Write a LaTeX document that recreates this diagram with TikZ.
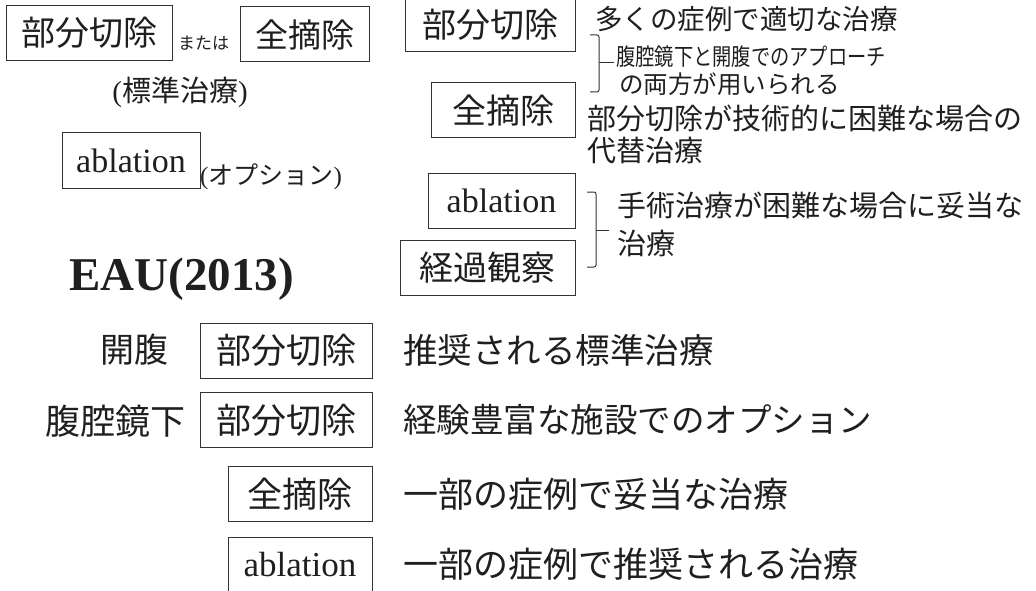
\documentclass[tikz,border=0pt]{standalone}
\usepackage{graphicx}
\usepackage{fontspec}
\newfontfamily\jp{Noto Sans CJK JP}
\newfontfamily\tms{Liberation Serif}
\newcommand{\fs}[1]{\fontsize{#1}{#1}\selectfont}
\begin{document}
\begin{tikzpicture}[x=1pt,y=-1pt,
  box/.style={draw=black!80, line width=1pt, inner sep=0pt, minimum height=55, anchor=center, text=black!88},
  lbl/.style={inner sep=0pt, anchor=west, text=black!88, align=left},
  brk/.style={draw=black!80, line width=1pt, rounded corners=2pt}]
\useasboundingbox (0,0) rectangle (1036,591);
% ---------- top left ----------
\node[box, minimum width=166] (tl1) at (89,33) {\jp\fs{34}部分切除};
\node[lbl] (mataha) at (178,43) {\jp\fs{17}または};
\node[box, minimum width=129] (tl2) at (304.5,34.5) {\jp\fs{33}全摘除};
\node[lbl, anchor=center] (std) at (180,92) {\tms\fs{29}(\jp 標準治療\tms)};
\node[box, minimum width=138] (tl3) at (131,160.5) {\tms\fs{34}ablation};
\node[lbl] (opt) at (200,177) {\tms\fs{25}(\jp オプション\tms)};
\node[lbl, anchor=base west] (eau) at (69,290) {\tms\bfseries\fs{47}EAU(2013)};
% ---------- top right ----------
\node[box, minimum width=170] (r1) at (490,24.5) {\jp\fs{34}部分切除};
\node[lbl] (r1t) at (595,19) {\jp\fs{27.5}多くの症例で適切な治療};
\coordinate (b1t) at (590,35);
\coordinate (b1b) at (590,92);
\coordinate (b1m) at (614,63);
\draw[brk] (b1t) -- ++(9,0) |- (b1b);
\draw[brk] (599,63) -- (b1m);
\node[lbl] (r1a) at (616,57) {\jp\fs{23.5}\scalebox{0.82}[1]{腹腔鏡下と開腹でのアプローチ}};
\node[lbl] (r1b) at (619,84) {\jp\fs{24.5}の両方が用いられる};
\node[box, minimum width=144] (r2) at (503,110.5) {\jp\fs{34}全摘除};
\node[lbl] (r2t) at (587,118) {\jp\fs{29}部分切除が技術的に困難な場合の};
\node[lbl] (r2u) at (587,150) {\jp\fs{29}代替治療};
\node[box, minimum width=147] (r3) at (501.5,200.5) {\tms\fs{34}ablation};
\node[box, minimum width=175] (r4) at (487.5,267.5) {\jp\fs{34}経過観察};
\coordinate (b2t) at (587,192);
\coordinate (b2b) at (587,267);
\coordinate (b2m) at (609,230);
\draw[brk] (b2t) -- ++(9,0) |- (b2b);
\draw[brk] (596,230) -- (b2m);
\node[lbl] (r3t) at (617,205) {\jp\fs{29}手術治療が困難な場合に妥当な};
\node[lbl] (r3u) at (617,243) {\jp\fs{29}治療};
% ---------- bottom ----------
\node[lbl] (kai) at (100,350) {\jp\fs{34}開腹};
\node[box, minimum width=172] (e1) at (286,350.5) {\jp\fs{35}部分切除};
\node[lbl] (e1t) at (403,350) {\jp\fs{34.5}推奨される標準治療};
\node[lbl] (fuku) at (45,421) {\jp\fs{35}腹腔鏡下};
\node[box, minimum width=172] (e2) at (286,420) {\jp\fs{35}部分切除};
\node[lbl] (e2t) at (403,420) {\jp\fs{33.5}経験豊富な施設でのオプション};
\node[box, minimum width=144] (e3) at (300,494) {\jp\fs{35}全摘除};
\node[lbl] (e3t) at (403,494) {\jp\fs{35}一部の症例で妥当な治療};
\node[box, minimum width=144] (e4) at (300,564.5) {\tms\fs{35}ablation};
\node[lbl] (e4t) at (403,564) {\jp\fs{35}一部の症例で推奨される治療};
\end{tikzpicture}
\end{document}
